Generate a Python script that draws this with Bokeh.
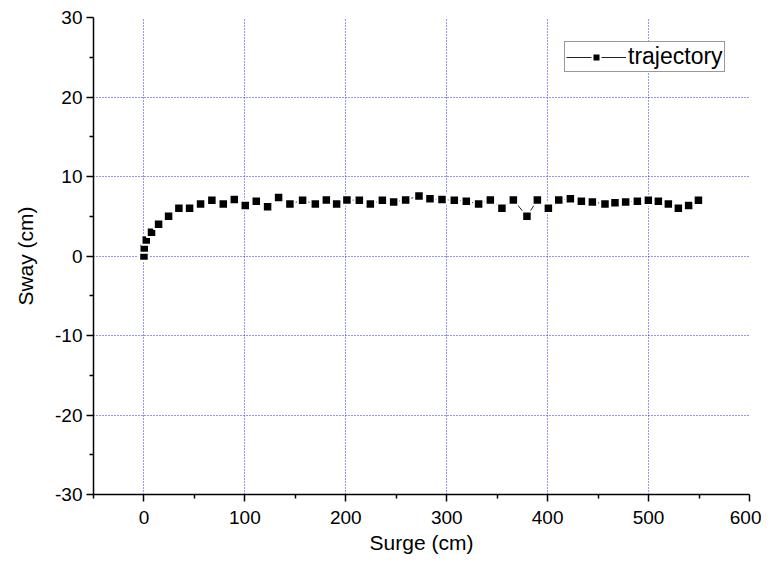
from bokeh.plotting import figure
from bokeh.models import Range1d, FixedTicker, Legend, LegendItem
from bokeh.embed import file_html
from bokeh.resources import INLINE

surge = [0, 0.3, 2.3, 7.5, 14.5, 24.4, 34.6, 45.2, 56.1, 67.3, 78.6, 89.5, 100.4,
         111.3, 122.5, 133.4, 144.6, 157.2, 169.8, 180.7, 190.9, 201.1, 213.4,
         224.3, 236.2, 247.4, 259.3, 272.5, 283.4, 295.3, 307.5, 319.4, 331.6,
         343.2, 354.7, 366.0, 379.5, 389.8, 400.7, 411.0, 422.5, 433.4, 444.3,
         456.8, 466.7, 477.3, 488.9, 499.8, 509.7, 519.6, 529.5, 539.7, 549.4]
sway = [0, 1.0, 2.0, 3.0, 4.0, 5.0, 6.0, 6.0, 6.55, 7.0, 6.55, 7.1, 6.35,
        6.9, 6.2, 7.35, 6.55, 7.0, 6.55, 7.05, 6.55, 7.05, 7.0,
        6.55, 7.0, 6.8, 7.05, 7.55, 7.2, 7.1, 7.0, 6.9, 6.55,
        7.05, 6.0, 7.05, 5.0, 7.05, 6.0, 7.05, 7.2, 6.9, 6.8,
        6.55, 6.7, 6.8, 6.9, 7.0, 6.9, 6.55, 6.0, 6.35, 7.0]

x_major = [0, 100, 200, 300, 400, 500, 600]
x_minor = [-50, 50, 150, 250, 350, 450, 550]
y_major = [-30, -20, -10, 0, 10, 20, 30]
y_minor = [-25, -15, -5, 5, 15, 25]
x_grid = [0, 100, 200, 300, 400, 500]
y_grid = [-20, -10, 0, 10, 20]

FONT = "Liberation Sans"

p = figure(width=761, height=556, output_backend="svg", toolbar_location=None,
           x_range=Range1d(-50, 600), y_range=Range1d(-30, 30),
           min_border_left=93, min_border_right=12, min_border_top=17,
           min_border_bottom=61)
p.outline_line_color = None
p.background_fill_color = "white"
p.border_fill_color = "white"

for ax, maj, mnr, lab in ((p.xaxis[0], x_major, x_minor, "Surge (cm)"),
                          (p.yaxis[0], y_major, y_minor, "Sway (cm)")):
    ax.ticker = FixedTicker(ticks=maj, minor_ticks=mnr)
    ax.major_label_overrides = {v: str(v) for v in maj}
    ax.axis_label = lab
    ax.axis_label_text_font = FONT
    ax.axis_label_text_font_size = "21px"
    ax.axis_label_text_font_style = "normal"
    ax.axis_label_text_color = "black"
    ax.major_label_text_font = FONT
    ax.major_label_text_font_size = "19px"
    ax.major_label_text_color = "black"
    ax.axis_line_color = "black"
    ax.axis_line_width = 1.5
    ax.major_tick_line_color = "black"
    ax.major_tick_line_width = 1.5
    ax.minor_tick_line_color = "black"
    ax.minor_tick_line_width = 1.5
    ax.major_tick_out = 7
    ax.major_tick_in = 0
    ax.minor_tick_out = 4
    ax.minor_tick_in = 0

p.xaxis[0].axis_label_standoff = 4
p.xaxis[0].major_label_standoff = 9
p.yaxis[0].axis_label_standoff = 15
p.yaxis[0].major_label_standoff = 4

p.xgrid[0].ticker = FixedTicker(ticks=x_grid)
p.ygrid[0].ticker = FixedTicker(ticks=y_grid)
for g in (p.xgrid[0], p.ygrid[0]):
    g.grid_line_color = "#2a2aff"
    g.grid_line_dash = "1 2"
    g.grid_line_width = 1

ln = p.line(surge, sway, line_color="#222222", line_width=1)
sc = p.scatter(surge, sway, marker="square", size=9.5, fill_color="black",
               line_color="white", line_width=2)

legend = Legend(items=[LegendItem(label="trajectory", renderers=[ln, sc])],
                location=(471, 422))
legend.label_text_font = FONT
legend.label_text_font_size = "23px"
legend.label_text_color = "black"
legend.glyph_width = 60
legend.glyph_height = 20
legend.label_standoff = 2
legend.padding = 1
legend.spacing = 0
legend.margin = 0
legend.border_line_color = "#333333"
legend.border_line_width = 1
legend.background_fill_alpha = 1
p.add_layout(legend)

open("out.html", "w").write(file_html(p, INLINE))
